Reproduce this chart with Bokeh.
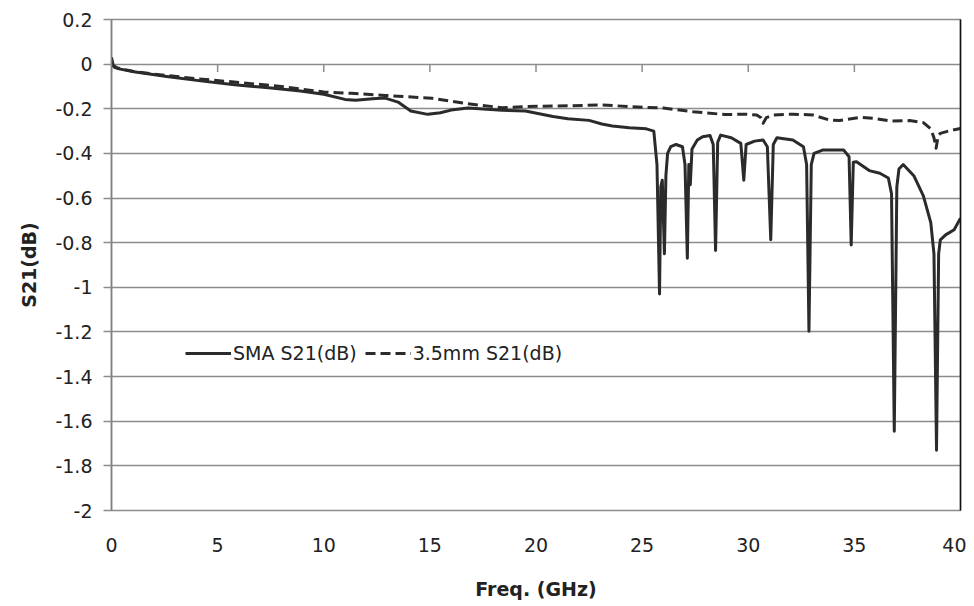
from bokeh.plotting import figure
from bokeh.models import (Range1d, FixedTicker, CustomJSTickFormatter, LinearAxis,
                          Legend, LegendItem)
from bokeh.embed import file_html
from bokeh.resources import INLINE

# ---- data ----
sma_f = [0, 0.08, 0.3, 1.05, 2.6, 4.2, 5.8, 7.4, 8.9, 10.0, 11.0, 11.5, 12.3, 12.9, 13.5,
         14.1, 14.9, 15.5, 16.0, 16.8, 18.4, 19.5, 20.8, 21.5, 22.5, 23.1, 23.6, 24.4, 25.2,
         25.55, 25.7, 25.82, 25.88, 25.95, 26.05, 26.12, 26.2, 26.35, 26.6, 26.9, 27.02,
         27.13, 27.2, 27.27, 27.35, 27.6, 27.85, 28.2, 28.35, 28.46, 28.56, 28.7, 29.2,
         29.65, 29.79, 29.9, 30.3, 30.7, 30.9, 31.06, 31.18, 31.35, 32.1, 32.6, 32.75,
         32.86, 32.97, 33.1, 33.5, 34.5, 34.75, 34.85, 34.95, 35.1, 35.7, 36.2, 36.6,
         36.75, 36.88, 37.0, 37.1, 37.3, 37.8, 38.25, 38.6, 38.75, 38.87, 38.97, 39.05,
         39.3, 39.7, 40.0]
sma_db = [0.03, -0.005, -0.02, -0.034, -0.055, -0.075, -0.092, -0.106, -0.12, -0.135,
          -0.158, -0.162, -0.155, -0.152, -0.17, -0.21, -0.225, -0.218, -0.206, -0.197,
          -0.207, -0.21, -0.235, -0.245, -0.252, -0.268, -0.277, -0.285, -0.29, -0.3,
          -0.45, -1.03, -0.55, -0.52, -0.85, -0.5, -0.4, -0.37, -0.36, -0.37, -0.45,
          -0.87, -0.45, -0.54, -0.38, -0.34, -0.325, -0.32, -0.36, -0.835, -0.35, -0.318,
          -0.33, -0.355, -0.52, -0.36, -0.345, -0.34, -0.37, -0.787, -0.36, -0.33, -0.34,
          -0.37, -0.45, -1.197, -0.45, -0.4, -0.385, -0.385, -0.415, -0.81, -0.44, -0.437,
          -0.477, -0.489, -0.51, -0.58, -1.645, -0.55, -0.47, -0.45, -0.5, -0.59, -0.71,
          -0.85, -1.73, -0.85, -0.787, -0.765, -0.742, -0.69]

mm35_f = [0, 0.15, 1.0, 2.0, 4.0, 6.0, 8.0, 10.0, 11.3, 12.9, 15.1, 16.8, 18.4, 19.5, 20.8,
          23.1, 24.4, 26.0, 27.4, 28.9, 29.9, 30.4, 30.6, 30.7, 30.85, 31.2, 32.1, 33.05,
          33.8, 34.3, 35.3, 35.9, 36.7, 37.6, 38.25, 38.6, 38.75, 38.85, 38.95, 39.05,
          39.5, 40.0]
mm35_db = [0.0, -0.015, -0.032, -0.045, -0.065, -0.082, -0.1, -0.125, -0.131, -0.14,
           -0.153, -0.178, -0.195, -0.19, -0.188, -0.183, -0.19, -0.197, -0.213, -0.226,
           -0.224, -0.228, -0.24, -0.265, -0.24, -0.228, -0.224, -0.228, -0.25, -0.253,
           -0.238, -0.243, -0.255, -0.253, -0.262, -0.29, -0.33, -0.377, -0.32, -0.31,
           -0.298, -0.288]

x_ticks = [0, 5, 10, 15, 20, 25, 30, 35, 40]
y_ticks = [0.2, 0, -0.2, -0.4, -0.6, -0.8, -1, -1.2, -1.4, -1.6, -1.8, -2]
series_names = ["SMA S21(dB)", "3.5mm S21(dB)"]
x_title = "Freq. (GHz)"
y_title = "S21(dB)"

FONT = "DejaVu Sans"
GRID = "#8c8c8c"
INK = "#2b2b2b"
TXT = "#222222"

p = figure(width=966, height=602, output_backend="svg", toolbar_location=None,
           x_range=Range1d(0, 40), y_range=Range1d(-2, 0.2),
           min_border_left=111, min_border_right=6, min_border_top=19, min_border_bottom=87)
p.background_fill_color = "white"
p.border_fill_color = "white"
p.outline_line_color = GRID
p.outline_line_width = 1.5

p.xgrid.visible = False
p.ygrid.ticker = FixedTicker(ticks=y_ticks)
p.ygrid.grid_line_color = GRID
p.ygrid.grid_line_width = 1.5

fmt = CustomJSTickFormatter(code="return tick.toFixed(1).replace(/\\.0$/, '');")

xa = p.xaxis[0]
xa.ticker = FixedTicker(ticks=x_ticks)
xa.axis_line_color = None
xa.major_tick_out = 0
xa.major_tick_in = 0
xa.minor_tick_line_color = None
xa.major_label_standoff = 27
xa.major_label_text_font = FONT
xa.major_label_text_font_size = "19px"
xa.major_label_text_color = TXT
xa.axis_label = x_title
xa.axis_label_text_font = FONT
xa.axis_label_text_font_style = "bold"
xa.axis_label_text_font_size = "19px"
xa.axis_label_text_color = TXT
xa.axis_label_standoff = 23

ya = p.yaxis[0]
ya.ticker = FixedTicker(ticks=y_ticks)
ya.formatter = fmt
ya.axis_line_color = "#808080"
ya.axis_line_width = 1.5
ya.major_tick_line_color = GRID
ya.major_tick_line_width = 1.5
ya.major_tick_out = 8
ya.major_tick_in = 0
ya.minor_tick_line_color = None
ya.major_label_standoff = 11
ya.major_label_text_font = FONT
ya.major_label_text_font_size = "19px"
ya.major_label_text_color = TXT
ya.axis_label = y_title
ya.axis_label_text_font = FONT
ya.axis_label_text_font_style = "bold"
ya.axis_label_text_font_size = "19px"
ya.axis_label_text_color = TXT
ya.axis_label_standoff = 12

# right border (black)
ra = LinearAxis(ticker=FixedTicker(ticks=[]), axis_line_color="#111111", axis_line_width=1.5,
                major_tick_line_color=None, minor_tick_line_color=None,
                major_label_text_font_size="0px")
p.add_layout(ra, "right")

# horizontal axis ticks hanging from the y=0 line
p.segment(x0=x_ticks, y0=[0] * len(x_ticks), x1=x_ticks, y1=[-0.035] * len(x_ticks),
          line_color=GRID, line_width=1.5)

r1 = p.line(sma_f, sma_db, line_color=INK, line_width=3, line_join="round")
r2 = p.line(mm35_f, mm35_db, line_color=INK, line_width=3, line_dash="10 5",
            line_join="round")

legend = Legend(items=[LegendItem(label=series_names[0], renderers=[r1]),
                       LegendItem(label=series_names[1], renderers=[r2])],
                orientation="horizontal", location=(74, 146),
                background_fill_alpha=0, border_line_color=None,
                padding=0, margin=0, spacing=8, label_standoff=2,
                glyph_width=46, glyph_height=20, label_height=20,
                label_text_font=FONT, label_text_font_size="19px",
                label_text_color=TXT)
p.add_layout(legend, "center")

open("out.html", "w").write(file_html(p, INLINE))
